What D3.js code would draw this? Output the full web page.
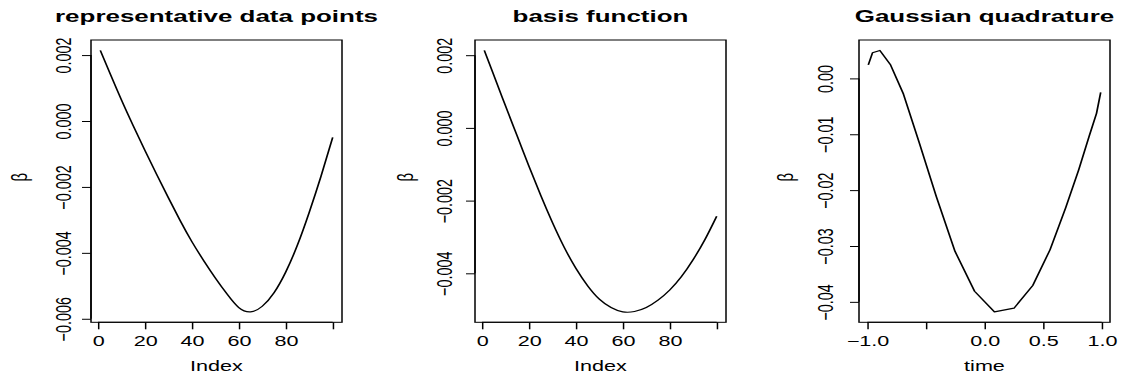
<!DOCTYPE html>
<html>
<head>
<meta charset="utf-8">
<script src="https://cdn.jsdelivr.net/npm/d3@7"></script>
<style>
html,body{margin:0;padding:0;background:#fff;}
svg{display:block;}
text{font-family:"Liberation Sans",Arial,Helvetica,sans-serif;fill:#000;}
</style>
</head>
<body>
<svg id="chart"></svg>
<script>
// ---------- data ----------
const titles = ["representative data points", "basis function", "Gaussian quadrature"];
const xLabels = ["Index", "Index", "time"];
const yLabel = "\u03B2";

const index1 = [1, 5, 10, 15, 20, 25, 30, 35, 40, 45, 50, 55, 60, 65, 70, 75, 80, 85, 90, 95, 100];
const beta1 = [0.00214, 0.00147, 0.00064, -0.00014, -0.00089, -0.00162, -0.00233, -0.00302, -0.00366, -0.00423,
  -0.00476, -0.00525, -0.00566, -0.00579, -0.00562, -0.00521, -0.00458, -0.00376, -0.00277, -0.00168, -0.00050];

const index2 = [1, 5, 10, 15, 20, 25, 30, 35, 40, 45, 50, 55, 60, 65, 70, 75, 80, 85, 90, 95, 100];
const beta2 = [0.00213, 0.00146, 0.00061, -0.00022, -0.00105, -0.00185, -0.00260, -0.00328, -0.00386, -0.00434,
  -0.00471, -0.00494, -0.00506, -0.00505, -0.00494, -0.00474, -0.00446, -0.00409, -0.00362, -0.00307, -0.00243];

const time3 = [-0.9915, -0.9558, -0.8926, -0.8037, -0.6916, -0.5597, -0.4117, -0.2518, -0.0848,
  0.0848, 0.2518, 0.4117, 0.5597, 0.6916, 0.8037, 0.8926, 0.9558, 0.9915];
const beta3 = [0.00244, 0.00458, 0.00500, 0.00250, -0.00280, -0.01130, -0.02110, -0.03095, -0.03810,
  -0.04179, -0.04113, -0.03708, -0.03065, -0.02321, -0.01637, -0.01040, -0.00625, -0.00250];

const xTicksIdx = [0, 20, 40, 60, 80, 100];
const xTickLabelsIdx = ["0", "20", "40", "60", "80", ""];
const xTicksTime = [-1, -0.5, 0, 0.5, 1];
const xTickLabelsTime = ["\u22121.0", "", "0.0", "0.5", "1.0"];
const yTicks1 = [-0.006, -0.004, -0.002, 0, 0.002];
const yTickLabels1 = ["\u22120.006", "\u22120.004", "\u22120.002", "0.000", "0.002"];
const yTicks2 = [-0.004, -0.002, 0, 0.002];
const yTickLabels2 = ["\u22120.004", "\u22120.002", "0.000", "0.002"];
const yTicks3 = [-0.04, -0.03, -0.02, -0.01, 0];
const yTickLabels3 = ["\u22120.04", "\u22120.03", "\u22120.02", "\u22120.01", "0.00"];

// ---------- layout (target pixels; x is divided by SX because of horizontal stretch) ----------
const SX = 1.5;
const W = 1123, H = 378, W0 = W / SX;
const FS = 14.4;

const panels = [
  {x: index1, y: beta1, xt: xTicksIdx, xtl: xTickLabelsIdx, yt: yTicks1, ytl: yTickLabels1,
   box: [91, 342], ylabX: 71, betaX: 27, curve: d3.curveNatural},
  {x: index2, y: beta2, xt: xTicksIdx, xtl: xTickLabelsIdx, yt: yTicks2, ytl: yTickLabels2,
   box: [475, 726], ylabX: 452, betaX: 413, curve: d3.curveNatural},
  {x: time3, y: beta3, xt: xTicksTime, xtl: xTickLabelsTime, yt: yTicks3, ytl: yTickLabels3,
   box: [859, 1110], ylabX: 833, betaX: 793, curve: d3.curveLinear}
];
const plotTop = 40, plotBottom = 322.3;

const svg = d3.select("#chart")
  .attr("width", W).attr("height", H)
  .attr("viewBox", `0 0 ${W0} ${H}`)
  .attr("preserveAspectRatio", "none");

function padded(ext) {
  const d = (ext[1] - ext[0]) * 0.04;
  return [ext[0] - d, ext[1] + d];
}

panels.forEach((p, i) => {
  const x0 = p.box[0] / SX, x1 = p.box[1] / SX;
  const xs = d3.scaleLinear().domain(padded(d3.extent(p.x))).range([x0, x1]);
  const ys = d3.scaleLinear().domain(padded(d3.extent(p.y))).range([plotBottom, plotTop]);
  const g = svg.append("g");

  // curve
  const pts = p.x.map((v, k) => [v, p.y[k]]);
  g.append("path")
    .datum(pts)
    .attr("fill", "none")
    .attr("stroke", "#000")
    .attr("stroke-width", 1.15)
    .attr("stroke-linejoin", "round")
    .attr("d", d3.line().x(d => xs(d[0])).y(d => ys(d[1])).curve(p.curve));

  // x axis
  const xa = g.append("g").attr("transform", `translate(0,${plotBottom})`)
    .call(d3.axisBottom(xs).tickValues(p.xt).tickFormat((d, k) => p.xtl[k]).tickSize(7).tickSizeOuter(0));
  xa.select(".domain").remove();
  xa.selectAll(".tick line").attr("stroke", "#000").attr("stroke-width", 1);
  xa.selectAll(".tick text")
    .attr("y", 346.5 - plotBottom).attr("dy", null)
    .style("font-size", FS + "px")
    .attr("fill", "#000");
  g.append("line")
    .attr("x1", xs(p.xt[0])).attr("x2", xs(p.xt[p.xt.length - 1]))
    .attr("y1", plotBottom).attr("y2", plotBottom)
    .attr("stroke", "#000").attr("stroke-width", 1);

  // y axis
  const ya = g.append("g").attr("transform", `translate(${x0},0)`)
    .call(d3.axisLeft(ys).tickValues(p.yt).tickFormat((d, k) => p.ytl[k]).tickSize(6).tickSizeOuter(0));
  ya.select(".domain").remove();
  ya.selectAll(".tick line").attr("stroke", "#000").attr("stroke-width", 1);
  ya.selectAll(".tick text")
    .attr("x", null).attr("dy", null)
    .attr("text-anchor", "middle")
    .attr("transform", `translate(${p.ylabX / SX - x0},0) rotate(-90)`)
    .style("font-size", FS + "px")
    .attr("fill", "#000");
  g.append("line")
    .attr("x1", x0).attr("x2", x0)
    .attr("y1", ys(p.yt[0])).attr("y2", ys(p.yt[p.yt.length - 1]))
    .attr("stroke", "#000").attr("stroke-width", 1);

  // box
  g.append("rect")
    .attr("x", x0).attr("y", plotTop)
    .attr("width", x1 - x0).attr("height", plotBottom - plotTop)
    .attr("fill", "none").attr("stroke", "#000").attr("stroke-width", 1);

  // title
  g.append("text")
    .attr("x", (x0 + x1) / 2).attr("y", 22)
    .attr("text-anchor", "middle")
    .style("font-size", "17.3px").style("font-weight", "bold")
    .text(titles[i]);

  // x label
  g.append("text")
    .attr("x", (x0 + x1) / 2).attr("y", 370.7)
    .attr("text-anchor", "middle")
    .style("font-size", FS + "px")
    .text(xLabels[i]);

  // y label
  g.append("text")
    .attr("text-anchor", "middle")
    .attr("transform", `translate(${p.betaX / SX},${(plotTop + plotBottom) / 2 - 4}) rotate(-90)`)
    .style("font-size", "15px")
    .text(yLabel);
});
</script>
</body>
</html>
